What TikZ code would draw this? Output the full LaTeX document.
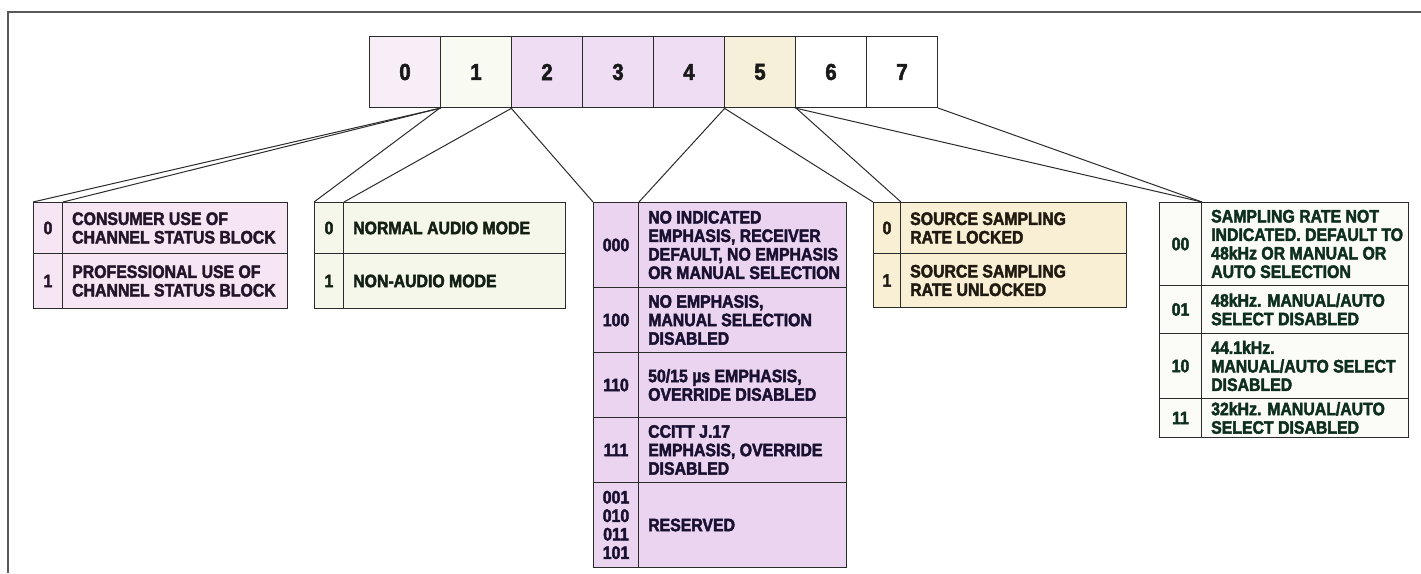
\documentclass[tikz,border=0pt]{standalone}
\usepackage{fontspec}
\setmainfont{Liberation Sans}[FakeStretch=0.88, BoldFeatures={FakeBold=2.4}]
\usepackage{xcolor}
\usepackage{tikz}
\definecolor{rule}{HTML}{2B2B2B}
\definecolor{bitA}{HTML}{F7EEF7}
\definecolor{bitB}{HTML}{F9FAF2}
\definecolor{bitC}{HTML}{EEDDF3}
\definecolor{bitD}{HTML}{F6F0DA}
\definecolor{tabA}{HTML}{F6E6F3}
\definecolor{tabB}{HTML}{F5F7EA}
\definecolor{tabC}{HTML}{EAD4F0}
\definecolor{tabD}{HTML}{F8EFD5}
\definecolor{tabE}{HTML}{FBFCF7}
\definecolor{inkA}{HTML}{24152A}
\definecolor{inkB}{HTML}{142014}
\definecolor{inkC}{HTML}{1A1030}
\definecolor{inkD}{HTML}{201A10}
\definecolor{inkE}{HTML}{0E2E1E}
\newcommand{\tabfont}{\fontsize{18}{18.5}\selectfont\bfseries}
\tikzset{
  tone/.style     = {},
  ink/.style      = {},
  bitbox/.style   = {draw=rule, line width=1pt, minimum width=71, minimum height=71, anchor=north west, inner sep=0pt, font=\fontsize{23}{23}\selectfont\bfseries, text=black!90},
  codecell/.style = {draw=rule, line width=1pt, tone, ink, anchor=north west, inner sep=0pt, align=center, font=\tabfont},
  txtcell/.style  = {draw=rule, line width=1pt, tone, anchor=north west, inner sep=0pt},
  txtlbl/.style   = {ink, anchor=west, inner sep=0pt, align=left, font=\tabfont},
  link/.style     = {draw=rule, line width=1pt},
  frame/.style    = {draw=black!65, line width=1.4pt},
}
\newcommand{\cellrow}[8]{%
  \node[codecell, minimum width=#4, minimum height=#6] (#1c) at (#2,#3) {#7};
  \node[txtcell, minimum width=#5, minimum height=#6] (#1t) at (#2+#4,#3) {};
  \node[txtlbl] (#1l) at ([xshift=10pt]#1t.west) {#8};%
}

\begin{document}
\begin{tikzpicture}[x=1pt,y=-1pt]
  \useasboundingbox (0,0) rectangle (1421,573);
  \draw[frame] (1421,12) -- (8,12) -- (8,573);

  % bit cells
  \foreach \i/\col in {0/bitA, 1/bitB, 2/bitC, 3/bitC, 4/bitC, 5/bitD, 6/white, 7/white} {
    \node[bitbox, fill=\col] (b\i) at ({369+71*\i},36) {\i};
  }

  % ---------- bit 0 ----------
  \begin{scope}[tone/.style={fill=tabA}, ink/.style={text=inkA}]
  \foreach \n/\y/\h/\c/\t in {%
    A0/202/51/0/{CONSUMER USE OF\\CHANNEL STATUS BLOCK},
    A1/253/55/1/{PROFESSIONAL USE OF\\CHANNEL STATUS BLOCK}}
  {\cellrow{\n}{33}{\y}{29}{225}{\h}{\c}{\t}}
  \end{scope}

  % ---------- bit 1 ----------
  \begin{scope}[tone/.style={fill=tabB}, ink/.style={text=inkB}]
  \foreach \n/\y/\h/\c/\t in {%
    B0/202/51/0/{NORMAL AUDIO MODE},
    B1/253/55/1/{NON-AUDIO MODE}}
  {\cellrow{\n}{314}{\y}{29}{222}{\h}{\c}{\t}}
  \end{scope}

  % ---------- bits 2-4 ----------
  \begin{scope}[tone/.style={fill=tabC}, ink/.style={text=inkC}]
  \foreach \n/\y/\h/\c/\t in {%
    C0/202/85/000/{NO INDICATED\\EMPHASIS, RECEIVER\\DEFAULT, NO EMPHASIS\\OR MANUAL SELECTION},
    C1/287/65/100/{NO EMPHASIS,\\MANUAL SELECTION\\DISABLED},
    C2/352/65/110/{50/15 µs EMPHASIS,\\OVERRIDE DISABLED},
    C3/417/65/111/{CCITT J.17\\EMPHASIS, OVERRIDE\\DISABLED},
    C4/482/85/{001\\010\\011\\101}/{RESERVED}}
  {\cellrow{\n}{593}{\y}{45}{208}{\h}{\c}{\t}}
  \end{scope}

  % ---------- bit 5 ----------
  \begin{scope}[tone/.style={fill=tabD}, ink/.style={text=inkD}]
  \foreach \n/\y/\h/\c/\t in {%
    D0/202/51/0/{SOURCE SAMPLING\\RATE LOCKED},
    D1/253/54/1/{SOURCE SAMPLING\\RATE UNLOCKED}}
  {\cellrow{\n}{873}{\y}{27}{226}{\h}{\c}{\t}}
  \end{scope}

  % ---------- bits 6-7 ----------
  \begin{scope}[tone/.style={fill=tabE}, ink/.style={text=inkE}]
  \foreach \n/\y/\h/\c/\t in {%
    E0/202/83/00/{SAMPLING RATE NOT\\INDICATED. DEFAULT TO\\48kHz OR MANUAL OR\\AUTO SELECTION},
    E1/285/48/01/{48kHz. MANUAL/AUTO\\SELECT DISABLED},
    E2/333/65/10/{44.1kHz.\\MANUAL/AUTO SELECT\\DISABLED},
    E3/398/39/11/{32kHz. MANUAL/AUTO\\SELECT DISABLED}}
  {\cellrow{\n}{1159}{\y}{42}{207}{\h}{\c}{\t}}
  \end{scope}

  % fan lines
  \foreach \s/\e in {b0.south east/A0c.north west, b0.south east/A0c.north east,
                     b1.south west/B0c.north west, b1.south east/B0c.north east,
                     b2.south west/C0c.north west, b4.south east/C0c.north east,
                     b5.south west/D0c.north west, b5.south east/D0c.north east,
                     b6.south west/E0c.north east, b7.south east/E0c.north east}
    \draw[link] (\s) -- (\e);
\end{tikzpicture}
\end{document}
